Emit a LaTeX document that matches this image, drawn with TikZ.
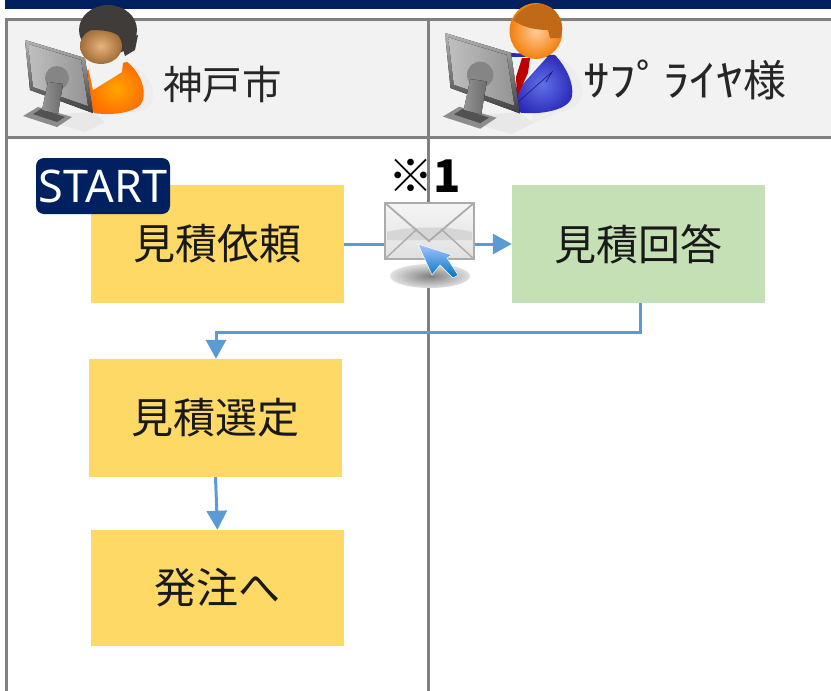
\documentclass[tikz,border=0pt]{standalone}
\usepackage{fontspec}
\usepackage{graphicx}
\setmainfont{Noto Sans CJK JP}
\newfontfamily\latinfont{Noto Sans}
\usetikzlibrary{arrows.meta,calc}
\definecolor{navy}{HTML}{002060}
\definecolor{lanegray}{HTML}{808080}
\definecolor{headfill}{HTML}{F2F2F2}
\definecolor{boxyellow}{HTML}{FFD966}
\definecolor{boxgreen}{HTML}{C5E0B4}
\definecolor{flowblue}{HTML}{5B9BD5}
\definecolor{hairdark}{HTML}{403C3A}
\definecolor{hairbrown}{HTML}{C06A18}
\definecolor{suitlight}{HTML}{6070E8}
\definecolor{suitdark}{HTML}{2A2AB8}
\tikzset{
  x=1pt,y=-1pt,
  laneline/.style={draw=lanegray,line width=3pt},
  flowbox/.style={minimum width=253pt,minimum height=118pt,inner sep=0pt,font=\fontsize{42}{42}\selectfont,text=black!90},
  yellowbox/.style={flowbox,fill=boxyellow},
  greenbox/.style={flowbox,fill=boxgreen},
  flow/.style={draw=flowblue,line width=3pt},
  flowarrow/.style={flow,-{Triangle[length=19pt,width=20pt]}},
  headtext/.style={inner sep=0pt,anchor=west,font=\fontsize{39.5}{40}\selectfont,text=black!85},
  pics/monitor/.style={code={
    \fill[black!9] (6,76) -- (60,92) -- (80,82) -- (68,72) -- cycle;
    \fill[black!45] (-2,76) -- (13,67) -- (47,77) -- (32,87) -- cycle;
    \fill[black!68] (8,74) -- (16,69) -- (40,77) -- (32,82) -- cycle;
    \fill[top color=black!30,bottom color=black!75] (0,0) -- (60,18) -- (68,73) -- (5,50) -- cycle;
    \fill[left color=black!25,right color=black!42] (3,4) -- (56,20) -- (63,66) -- (8,47) -- cycle;
    \fill[black!48] (32,38) circle[radius=12];
    \fill[left color=black!42,right color=black!58] (23,42) -- (38,44) -- (33,74) -- (17,70) -- cycle;
  }}
}
\begin{document}
\begin{tikzpicture}
\useasboundingbox (0,0) rectangle (831,691);
\fill[white] (0,0) rectangle (831,691);
% top band and header
\fill[navy] (5,0) rectangle (831,9);
\fill[headfill] (6,19) rectangle (831,137);
\draw[laneline] (831,19) -- (6,19) -- (6,691);
\draw[laneline] (6,137) -- (831,137);
\draw[laneline] (428,19) -- (428,691);

% person 1
\fill[black!7] (125,60) .. controls (155,75) and (160,100) .. (145,110) -- (100,118) -- cycle;
\shade[inner color=orange!70!yellow,outer color=orange!85!red,shading=radial]
  (93,113) -- (87,70) -- (127,62) .. controls (140,72) and (146,88) .. (143,100)
  .. controls (140,112) and (115,116) .. (93,113) -- cycle;
\fill[white!95!black] (87,62) -- (123,62) -- (122,72) -- (93,90) -- cycle;
\fill[hairdark] (108,30) ellipse[x radius=29,y radius=25];
\fill[hairdark] (120,40) -- (138,35) -- (135,50) -- (125,56) -- cycle;
\shade[inner color=orange!35!brown!60!white,outer color=brown!85!black,shading=radial] (101,46) ellipse[x radius=21,y radius=18];
\fill[hairdark] (80,31) .. controls (95,29) and (112,30) .. (119,36) -- (124,44) -- (134,40) -- (125,15) -- (90,12) -- cycle;
\pic at (25,40) {monitor};
\node[headtext] (kobe) at (163,84) {神戸市};

% person 2
\fill[black!7] (555,55) .. controls (585,70) and (590,100) .. (572,108) -- (530,124) -- cycle;
\shade[inner color=suitlight,outer color=suitdark,shading=radial]
  (515,112) -- (510,53) -- (555,55) .. controls (567,68) and (574,84) .. (572,96)
  .. controls (570,110) and (540,116) .. (515,112) -- cycle;
\fill[white!95!black] (510,57) -- (547,57) -- (520,87) -- (512,87) -- cycle;
\fill[red!75!black] (522,58) -- (530,58) -- (528,73) -- (517,97) -- (516,77) -- cycle;
\draw[suitdark!60!black,line width=.6pt] (518,102) -- (552,72) -- (546,82);
\shade[inner color=orange!40!white,outer color=orange!80!brown,shading=radial] (536,31) ellipse[x radius=26.5,y radius=28];
\fill[hairbrown] (513,20) .. controls (525,0) and (550,-2) .. (560,18)
  .. controls (564,28) and (562,34) .. (560,38) -- (550,38) -- (548,30)
  .. controls (535,30) and (522,27) .. (513,20) -- cycle;
\pic[scale=1.1] at (445,33) {monitor};
\node[headtext,font=\fontsize{43}{43}\selectfont] (supplier) at (583,80) {\scalebox{1.24}[1]{ｻﾌﾟﾗｲﾔ}様};

% boxes
\node[yellowbox] (req) at (217.5,244) {\raisebox{-1.5pt}{見積依頼}};
\node[greenbox] (ans) at (638.5,244) {\raisebox{-1.5pt}{見積回答}};
\node[yellowbox] (sel) at (215.5,418) {\raisebox{-1.5pt}{見積選定}};
\node[yellowbox,minimum height=116pt] (ord) at (217.5,588) {\raisebox{-1.5pt}{発注へ}};
\node[fill=navy,rounded corners=8pt,minimum width=134pt,minimum height=56pt,inner sep=0pt,
  text=white,font=\latinfont\fontsize{45}{45}\selectfont] (start) at (103,186) {START};

% mail
\node[inner sep=0pt,minimum width=89pt,minimum height=56pt] (mail) at (429.5,231) {};
\coordinate (mailin) at ($(mail.west)+(0,13)$);
\coordinate (mailout) at ($(mail.east)+(0,13)$);
\draw[flow] (req.east |- mailin) -- (mailin);
\draw[flowarrow] (mailout) -- (ans.west |- mailout);
\draw[flowarrow] (ans.south -| 640,0) -- (640,332) -- (216,332) -- (sel.north -| 216,0);
\draw[flowarrow] (sel.south) -- (ord.north);
\shade[inner color=black!50,outer color=black!12] (430,276) ellipse[x radius=40,y radius=12];
\shade[top color=black!4,bottom color=black!12,draw=black!33,line width=2pt]
  (mail.north west) rectangle (mail.south east);
\fill[black!16] (387,232) .. controls (410,226) and (450,226) .. (472,232) -- (472,240) -- (387,240) -- cycle;
\draw[black!33,line width=1.8pt] (mail.north west) -- (429,241) -- (mail.north east);
\draw[black!33,line width=1.4pt] (mail.south west) -- (417,229);
\draw[black!33,line width=1.4pt] (mail.south east) -- (441,229);
\shade[top color=cyan!35!blue!35!white,bottom color=cyan!60!blue!75!black,draw=white,line width=.5pt]
  (418,244) -- (452,255) -- (447,258) -- (458,275) -- (453,278) -- (440,265) -- (432,275) -- cycle;
\node[inner sep=0pt,font=\bfseries\fontsize{45}{45}\selectfont] (note) at (425,176) {※1};
\end{tikzpicture}
\end{document}
